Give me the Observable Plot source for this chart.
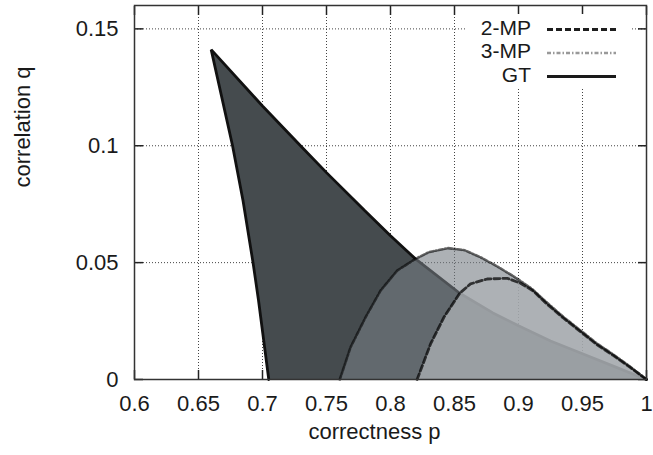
<!DOCTYPE html>
<html>
<head>
<meta charset="utf-8">
<script src="https://cdn.jsdelivr.net/npm/d3@7"></script>
<script src="https://cdn.jsdelivr.net/npm/@observablehq/plot@0.6"></script>
<style>
  html, body { margin: 0; padding: 0; background: #fff; }
  svg { font-family: "Liberation Sans", Arial, Helvetica, sans-serif; }
</style>
</head>
<body>
<div id="chart"></div>
<script>
// ---- tick values & labels ----
const xTicks = [0.6, 0.65, 0.7, 0.75, 0.8, 0.85, 0.9, 0.95, 1];
const xTickLabels = ["0.6", "0.65", "0.7", "0.75", "0.8", "0.85", "0.9", "0.95", "1"];
const yTicks = [0, 0.05, 0.1, 0.15];
const yTickLabels = ["0", "0.05", "0.1", "0.15"];

// ---- series ----
const seriesNames = ["2-MP", "3-MP", "GT"];

// GT boundary: left branch (bottom -> apex), then upper branch (apex -> p=1)
const gtP = [0.7049, 0.6969, 0.6926, 0.6848, 0.6766, 0.6599,
             0.70, 0.7297, 0.75, 0.78, 0.80, 0.8195, 0.8541, 0.88, 0.90, 0.925, 0.95, 0.975, 1.0];
const gtQ = [0, 0.0338, 0.050, 0.0765, 0.100, 0.1411,
             0.117, 0.100, 0.0885, 0.0722, 0.0615, 0.0516, 0.0369, 0.0285, 0.023, 0.0165, 0.011, 0.0055, 0];

// 3-MP boundary
const mp3P = [0.7604, 0.7688, 0.7805, 0.7922, 0.8052, 0.8195, 0.83, 0.845, 0.858, 0.8703,
              0.883, 0.896, 0.91, 0.9224, 0.935, 0.9484, 0.961, 0.974, 0.987, 1.0];
const mp3Q = [0, 0.0138, 0.0266, 0.038, 0.0466, 0.0516, 0.0545, 0.0562, 0.0553, 0.0523,
              0.0485, 0.0442, 0.039, 0.0328, 0.0268, 0.021, 0.0155, 0.0107, 0.0056, 0];

// 2-MP boundary
const mp2P = [0.8208, 0.8313, 0.8417, 0.8541, 0.8625, 0.8755, 0.8911, 0.9016, 0.9117,
              0.9224, 0.935, 0.9484, 0.961, 0.974, 0.987, 1.0];
const mp2Q = [0, 0.0152, 0.0266, 0.0369, 0.0409, 0.043, 0.0433, 0.0412, 0.0378,
              0.0322, 0.0263, 0.0205, 0.015, 0.0103, 0.0053, 0];

const toPts = (P, Q) => P.map((p, i) => ({p, q: Q[i]}));
const gt = toPts(gtP, gtQ);
const mp3 = toPts(mp3P, mp3Q);
const mp2 = toPts(mp2P, mp2Q);

const FS = 22;
const LFS = 21;
const INK = "#1a1a1a";

const plot = Plot.plot({
  width: 653,
  height: 455,
  marginLeft: 134,
  marginRight: 7,
  marginTop: 5,
  marginBottom: 76,
  style: {fontSize: FS + "px", fontFamily: '"Liberation Sans", Arial, sans-serif', color: INK, background: "#fff"},
  x: {domain: [0.6, 1]},
  y: {domain: [0, 0.16]},
  marks: [
    // dotted grid
    Plot.gridX(xTicks, {stroke: "#222", strokeOpacity: 0.85, strokeDasharray: "1,2", strokeWidth: 1}),
    Plot.gridY(yTicks, {stroke: "#222", strokeOpacity: 0.85, strokeDasharray: "1,2", strokeWidth: 1}),
    // inward ticks on all four sides
    Plot.axisX(xTicks, {anchor: "bottom", tickSize: -9, tickFormat: () => "", label: null, stroke: "#222", strokeWidth: 1.5}),
    Plot.axisX(xTicks, {anchor: "top", tickSize: -9, tickFormat: () => "", label: null, stroke: "#222", strokeWidth: 1.5}),
    Plot.axisY(yTicks, {anchor: "left", tickSize: -9, tickFormat: () => "", label: null, stroke: "#222", strokeWidth: 1.5}),
    Plot.axisY(yTicks, {anchor: "right", tickSize: -9, tickFormat: () => "", label: null, stroke: "#222", strokeWidth: 1.5}),
    // GT region
    Plot.line(gt, {x: "p", y: "q", fill: "#454b4e", stroke: "none"}),
    Plot.line(gt, {x: "p", y: "q", stroke: "#111", strokeWidth: 2.8, strokeLinejoin: "miter"}),
    // 3-MP region
    Plot.line(mp3, {x: "p", y: "q", fill: "#767d84", fillOpacity: 0.6, stroke: "none"}),
    // 2-MP region
    Plot.line(mp2, {x: "p", y: "q", fill: "#adb1b5", fillOpacity: 0.75, stroke: "none"}),
    // outlines
    Plot.line(mp3, {x: "p", y: "q", stroke: "#000", strokeOpacity: 0.6, strokeWidth: 2.6, strokeDasharray: "4,2,1.5,2"}),
    Plot.line(mp2, {x: "p", y: "q", stroke: "#000", strokeOpacity: 0.72, strokeWidth: 2.8, strokeDasharray: "6,3"}),
    Plot.frame({stroke: "#333", strokeWidth: 1.5}),
    // tick labels
    Plot.axisX(xTicks, {anchor: "bottom", tickSize: 0, tickPadding: 16, tickFormat: (d, i) => xTickLabels[i], label: null, fontSize: FS, fill: INK}),
    Plot.axisY(yTicks, {anchor: "left", tickSize: 0, tickPadding: 16, tickFormat: (d, i) => yTickLabels[i], label: null, fontSize: FS, fill: INK}),
    // axis titles
    Plot.text(["correctness p"], {text: d => d, frameAnchor: "bottom", dx: -16, dy: 59, fontSize: FS, fill: INK}),
    Plot.text(["correlation q"], {text: d => d, frameAnchor: "left", rotate: -90, dx: -112, dy: -5, fontSize: FS, fill: INK})
  ]
});

document.getElementById("chart").appendChild(plot);

// ---- legend (inside plot, top right) ----
const svg = d3.select(plot);
const lg = svg.append("g").attr("class", "legend");
lg.append("rect").attr("x", 466).attr("y", 14).attr("width", 166).attr("height", 74).attr("fill", "#fff");
const rows = [
  {name: seriesNames[0], y: 27.5, stroke: "#1e1e1e", dash: "6,3", w: 2.8},
  {name: seriesNames[1], y: 51, stroke: "#999", dash: "4,2,1.5,2", w: 2.6},
  {name: seriesNames[2], y: 74.5, stroke: "#1a1a1a", dash: null, w: 3}
];
rows.forEach(r => {
  lg.append("text").attr("x", 531).attr("y", r.y).attr("dy", "0.35em")
    .attr("text-anchor", "end").attr("font-size", LFS).attr("fill", INK).text(r.name);
  const ln = lg.append("line").attr("x1", 547).attr("x2", 616).attr("y1", r.y + 2).attr("y2", r.y + 2)
    .attr("stroke", r.stroke).attr("stroke-width", r.w);
  if (r.dash) ln.attr("stroke-dasharray", r.dash);
});
</script>
</body>
</html>
